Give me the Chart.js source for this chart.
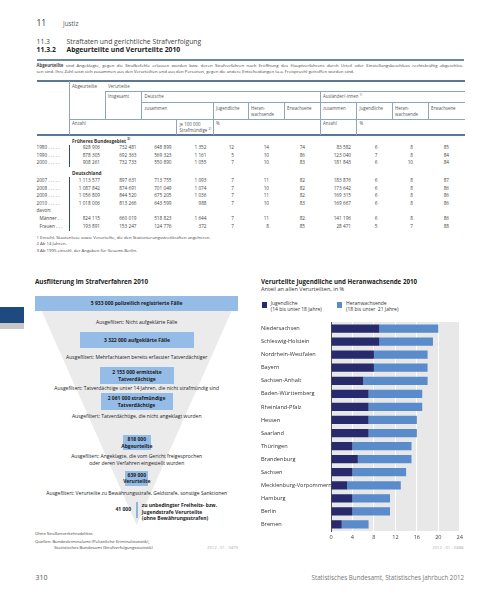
<!DOCTYPE html>
<html lang="de">
<head>
<meta charset="utf-8">
<title>Justiz 2010</title>
<script src="https://cdn.jsdelivr.net/npm/chart.js@4.4.0/dist/chart.umd.min.js"></script>
<style>
  html, body { margin: 0; padding: 0; background: #fff; }
  body { width: 500px; height: 607px; position: relative; overflow: hidden;
         font-family: "Open Sans", "Noto Sans", sans-serif; color: #333; }
  .a { position: absolute; white-space: nowrap; line-height: 1; }
  .r { position: absolute; }
  .box { position: absolute; background: #94bce6; color: #1a1a1a; font-weight: bold;
         text-align: center; white-space: nowrap; display: flex; align-items: center;
         justify-content: center; line-height: 1.25; }
  #chart { position: absolute; left: 261px; top: 318px; }
</style>
</head>
<body>
<canvas id="chart" width="205" height="226"></canvas>
<script>
// bar chart data (Anteil an allen Verurteilten, in %)
const states = ['Niedersachsen', 'Schleswig-Holstein', 'Nordrhein-Westfalen', 'Bayern',
  'Sachsen-Anhalt', 'Baden-Württemberg', 'Rheinland-Pfalz', 'Hessen', 'Saarland',
  'Thüringen', 'Brandenburg', 'Sachsen', 'Mecklenburg-Vorpommern', 'Hamburg', 'Berlin', 'Bremen'];
const jugendliche = [9, 9, 8, 8, 6, 7, 7, 7, 7, 4, 5, 4, 3, 4, 4, 2];
const heranwachsende = [11, 10, 10, 10, 12, 10, 10, 9, 9, 11, 10, 10, 10, 7, 7, 5];
const xTicks = [0, 4, 8, 12, 16, 20, 24];

// table data
const stubFrueher = ['1980', '1990', '2000'];
const rowsFrueher = [
  ['928 906', '732 481', '648 899', '1 352', '12', '14', '74', '83 582', '6', '8', '85'],
  ['878 305', '692 363', '569 323', '1 161', '5', '10', '86', '123 040', '7', '8', '84'],
  ['908 261', '732 733', '550 890', '1 055', '7', '10', '83', '181 843', '6', '10', '84']
];
const stubDeutschland = ['2007', '2008', '2009', '2010'];
const rowsDeutschland = [
  ['1 113 577', '897 631', '713 755', '1 093', '7', '11', '82', '183 876', '6', '8', '87'],
  ['1 087 842', '874 691', '701 049', '1 074', '7', '10', '82', '173 642', '6', '8', '86'],
  ['1 056 809', '844 520', '675 205', '1 036', '7', '11', '82', '169 315', '6', '8', '86'],
  ['1 018 006', '813 266', '643 599', '988', '7', '10', '83', '169 667', '6', '8', '86']
];
const stubDavon = ['Männer . .', 'Frauen . . .'];
const rowsDavon = [
  ['824 115', '660 019', '518 823', '1 644', '7', '11', '82', '141 196', '6', '8', '86'],
  ['193 891', '153 247', '124 776', '372', '7', '8', '85', '28 471', '5', '7', '88']
];

// funnel data
const funnelBoxes = ['5 933 000 polizeilich registrierte Fälle', '3 322 000 aufgeklärte Fälle',
  '2 153 000 ermittelte<br>Tatverdächtige', '2 061 000 strafmündige<br>Tatverdächtige',
  '818 000<br>Abgeurteilte', '639 000<br>Verurteilte'];
const funnelFilters = ['Ausgefiltert: Nicht aufgeklärte Fälle',
  'Ausgefiltert: Mehrfachtaten bereits erfasster Tatverdächtiger',
  'Ausgefiltert: Tatverdächtige unter 14 Jahren, die nicht strafmündig sind',
  'Ausgefiltert: Tatverdächtige, die nicht angeklagt wurden',
  'Ausgefiltert: Angeklagte, die vom Gericht freigesprochen<br>oder deren Verfahren eingestellt wurden',
  'Ausgefiltert: Verurteilte zu Bewährungsstrafe, Geldstrafe, sonstige Sanktionen'];

// helpers
function txt(s, x, y, size, o = {}) {
  const d = document.createElement('div');
  d.className = 'a';
  d.innerHTML = s;
  d.style.fontSize = size + 'px';
  if (o.lh) d.style.lineHeight = o.lh;
  d.style.top = (y - size * 0.6) + 'px';
  if (o.align === 'right') d.style.right = (500 - x) + 'px';
  else if (o.align === 'center') { d.style.left = x + 'px'; d.style.transform = 'translateX(-50%)'; d.style.textAlign = 'center'; }
  else d.style.left = x + 'px';
  if (o.bold) d.style.fontWeight = 'bold';
  if (o.color) d.style.color = o.color;
  if (o.width) { d.style.width = o.width + 'px'; d.style.whiteSpace = 'normal'; }
  if (o.css) Object.assign(d.style, o.css);
  document.body.appendChild(d);
  return d;
}
function rect(x, y, w, h, color) {
  const d = document.createElement('div');
  d.className = 'r';
  Object.assign(d.style, { left: x + 'px', top: y + 'px', width: w + 'px', height: h + 'px', background: color });
  document.body.appendChild(d);
  return d;
}
const hl = (x1, x2, y, c, w) => rect(x1, y - w / 2, x2 - x1, w, c);
const vl = (x, y1, y2, c, w) => rect(x - w / 2, y1, w, y2 - y1, c);

// page head
txt('11', 36.5, 24.5, 8.5, { color: '#333' });
txt('Justiz', 63, 24.5, 6.3, { color: '#555' });
txt('11.3', 36.5, 42.8, 6.8, { color: '#444' });
txt('Straftaten und gerichtliche Strafverfolgung', 66.5, 42.8, 6.8, { color: '#444' });
txt('11.3.2', 36.5, 51.2, 6.8, { bold: true, color: '#222' });
txt('Abgeurteilte und Verurteilte 2010', 66.5, 51.2, 6.8, { bold: true, color: '#222' });
hl(36.5, 463.5, 60, '#6c88a4', 1.3);
txt('<b>Abgeurteilte</b> sind Angeklagte, gegen die Strafbefehle erlassen wurden bzw. deren Strafverfahren nach Eröffnung des Hauptverfahrens durch Urteil oder Einstellungsbeschluss rechtskräftig abgeschlos-',
  36.5, 65.4, 4.3, { color: '#444', width: 427, css: { textAlign: 'justify', textAlignLast: 'justify' } });
txt('sen sind. Ihre Zahl setzt sich zusammen aus den Verurteilten und aus den Personen, gegen die andere Entscheidungen (u.a. Freispruch) getroffen worden sind.',
  36.5, 71.2, 4.3, { color: '#444' });

// table frame
const thick = '#5a7894', thin = '#8ea6bd';
hl(36.5, 465, 81, thick, 1.6);
hl(105, 465, 91.7, thin, 0.8);
hl(141.7, 465, 102.3, thin, 0.8);
hl(69, 465, 119, thin, 0.8);
hl(36.5, 465, 135, thick, 1.6);
vl(69, 81, 135, thin, 0.8);
vl(105, 91.7, 119, thin, 0.8);
vl(141.7, 91.7, 119, thin, 0.8);
vl(176.7, 119, 135, thin, 0.8);
vl(213.3, 102.3, 135, thin, 0.8);
vl(248.3, 102.3, 119, thin, 0.8);
vl(284.3, 102.3, 119, thin, 0.8);
vl(320, 91.7, 135, thin, 0.8);
vl(356.7, 102.3, 135, thin, 0.8);
vl(392, 102.3, 119, thin, 0.8);
vl(428, 102.3, 119, thin, 0.8);
vl(69, 145, 166.5, '#2c4f80', 0.9);
vl(69, 177, 230.5, '#2c4f80', 0.9);

// table head text
const hc = '#555', hs = 4.4;
txt('Abgeurteilte', 72, 86.2, hs, { color: hc });
txt('Verurteilte', 108, 86.2, hs, { color: hc });
txt('Insgesamt', 108, 96.8, hs, { color: hc });
txt('Deutsche', 144.5, 96.8, hs, { color: hc });
txt('Ausländer/-innen <sup style="font-size:3px">1)</sup>', 323, 96.8, hs, { color: hc });
[[144.5, 'zusammen'], [216, 'Jugendliche'], [251, 'Heran-<br>wachsende'], [287, 'Erwachsene'],
 [323, 'zusammen'], [359.5, 'Jugendliche'], [395, 'Heran-<br>wachsende'], [431, 'Erwachsene']]
  .forEach(([x, s]) => txt(s, x, 107.2, hs, { color: hc, lh: 1.45 }));
txt('Anzahl', 72, 123.2, hs, { color: hc });
txt('je 100 000<br>Strafmündige <sup style="font-size:3px">2)</sup>', 179.5, 123.2, hs, { color: hc, lh: 1.45 });
txt('%', 216, 123.2, hs, { color: hc });
txt('Anzahl', 323, 123.2, hs, { color: hc });
txt('%', 359.5, 123.2, hs, { color: hc });

// table body
const colRight = [100, 136.5, 171.5, 206.5, 234, 269, 305, 351, 377.5, 413, 449];
const bs = 4.7, bc = '#444';
function row(stub, vals, y, sx = 36.5) {
  txt(stub + (stub.length === 4 ? ' . . . . .' : ''), sx, y, bs, { color: bc });
  vals.forEach((v, i) => txt(v, colRight[i], y, bs, { color: bc, align: 'right' }));
}
txt('Früheres Bundesgebiet <sup style="font-size:3px">3)</sup>', 72, 140.8, bs, { bold: true, color: '#333' });
const yF = [148.2, 155.8, 163.2];
stubFrueher.forEach((s, i) => row(s, rowsFrueher[i], yF[i]));
txt('Deutschland', 72, 173.4, bs, { bold: true, color: '#333' });
const yD = [181, 188.6, 196.1, 203.7];
stubDeutschland.forEach((s, i) => row(s, rowsDeutschland[i], yD[i]));
txt('davon:', 36.5, 210.9, bs, { color: bc });
const yV = [218.8, 226.9];
stubDavon.forEach((s, i) => row(s, rowsDavon[i], yV[i], 39.5));

// footnotes
txt('1 Einschl. Staatenlose sowie Verurteilte, die den Stationierungsstreitkräften angehören.', 36.5, 237.4, 4.3, { color: '#444' });
txt('2 Ab 14 Jahren.', 36.5, 243.9, 4.3, { color: '#444' });
txt('3 Ab 1995 einschl. der Angaben für Gesamt-Berlin.', 36.5, 250.2, 4.3, { color: '#444' });

// left blue tab
rect(0, 306.7, 24, 16.6, '#1d4b80');
rect(0, 323.3, 24, 5.7, '#c8c8c8');

// funnel
txt('Ausfilterung im Strafverfahren 2010', 35, 282.3, 6.3, { bold: true, color: '#222' });
const tri = document.createElement('div');
Object.assign(tri.style, { position: 'absolute', left: '35px', top: '296px', width: '203.3px', height: '229px',
  background: '#ebebeb', clipPath: 'polygon(0 0, 100% 0, 50% 100%)' });
document.body.appendChild(tri);
const boxGeom = [[35, 295.7, 203.3, 15.3], [80, 332, 114, 15.7], [100, 367, 74, 17], [100.5, 393, 72, 17],
  [122.7, 435, 28.3, 15], [125.3, 470.7, 23, 15.3]];
funnelBoxes.forEach((s, i) => {
  const [x, y, w, h] = boxGeom[i];
  const b = rect(x, y, w, h, '#94bce6');
  b.className = 'box';
  b.style.fontSize = '5px';
  b.innerHTML = s;
});
const filterY = [321.8, 356.7, 388.4, 416.4, 456.2, 492.8];
funnelFilters.forEach((s, i) => txt(s, 136.7, filterY[i], 5, { align: 'center', color: '#222', lh: 1.35 }));
txt('41 000', 131, 510.2, 5, { bold: true, color: '#222', align: 'right' });
vl(137, 501.7, 518.5, '#8db4e2', 1.8);
txt('zu unbedingter Freiheits- bzw.<br>Jugendstrafe Verurteilte<br>(ohne Bewährungsstrafen)', 141.7, 505.2, 5,
  { bold: true, color: '#222', lh: 1.33 });
txt('Ohne Straßenverkehrsdelikte.', 35, 534.2, 4.2, { color: '#444' });
txt('Quellen: Bundeskriminalamt (Polizeiliche Kriminalstatistik),', 35, 542.4, 4.2, { color: '#444' });
txt('Statistisches Bundesamt (Strafverfolgungsstatistik)', 54.3, 548.2, 4.2, { color: '#444' });
txt('2012 - 01 - 0479', 238, 548.2, 4.2, { color: '#aaa', align: 'right' });

// right chart head + legend
txt('Verurteilte Jugendliche und Heranwachsende 2010', 261, 282.3, 6.2, { bold: true, color: '#222' });
txt('Anteil an allen Verurteilten, in %', 261, 290.5, 5.6, { color: '#333' });
const darkBlue = '#272a6c', lightBlue = '#5a8bcb';
rect(261.7, 302.4, 5, 5.8, darkBlue);
txt('Jugendliche<br>(14 bis unter 18 Jahre)', 270.7, 302.8, 5, { color: '#333', lh: 1.3 });
rect(337.3, 302.4, 5, 5.8, lightBlue);
txt('Heranwachsende<br>(18 bis unter&nbsp; 21 Jahre)', 346, 302.8, 5, { color: '#333', lh: 1.3 });
txt('2012 - 01 - 0488', 463.3, 548.4, 4.2, { color: '#aaa', align: 'right' });

// page foot
txt('310', 35.5, 578.4, 7, { color: '#555' });
txt('Statistisches Bundesamt, Statistisches Jahrbuch 2012', 464, 579, 6.2, { color: '#777', align: 'right' });

// bar chart
Chart.defaults.font.family = '"Open Sans", "Noto Sans", sans-serif';
const plotBg = {
  id: 'plotBg',
  beforeDraw(c) {
    const { ctx, chartArea: a } = c;
    ctx.save();
    ctx.fillStyle = '#e8e8e8';
    ctx.fillRect(a.left, a.top, a.right - a.left, a.bottom - a.top);
    ctx.restore();
  }
};
new Chart(document.getElementById('chart'), {
  type: 'bar',
  data: {
    labels: states,
    datasets: [
      { label: 'Jugendliche', data: jugendliche, backgroundColor: darkBlue, barPercentage: 0.63, categoryPercentage: 1 },
      { label: 'Heranwachsende', data: heranwachsende, backgroundColor: lightBlue, barPercentage: 0.63, categoryPercentage: 1 }
    ]
  },
  options: {
    indexAxis: 'y',
    responsive: false,
    animation: false,
    layout: { padding: { top: 4, right: 6, bottom: 0, left: 0 } },
    plugins: { legend: { display: false }, tooltip: { enabled: false } },
    scales: {
      x: {
        stacked: true, min: 0, max: 24,
        afterBuildTicks: s => { s.ticks = xTicks.map(v => ({ value: v })); },
        afterFit: s => { s.height = 13; },
        grid: { color: '#ffffff', lineWidth: 1, drawTicks: false },
        border: { display: false },
        ticks: { font: { size: 5.6 }, color: '#444', padding: 3 }
      },
      y: {
        stacked: true,
        afterFit: s => { s.width = 70; },
        grid: { display: false },
        border: { color: '#555', width: 1 },
        ticks: { crossAlign: 'far', font: { size: 5.6 }, color: '#333', padding: 0 }
      }
    }
  },
  plugins: [plotBg]
});
</script>
</body>
</html>
